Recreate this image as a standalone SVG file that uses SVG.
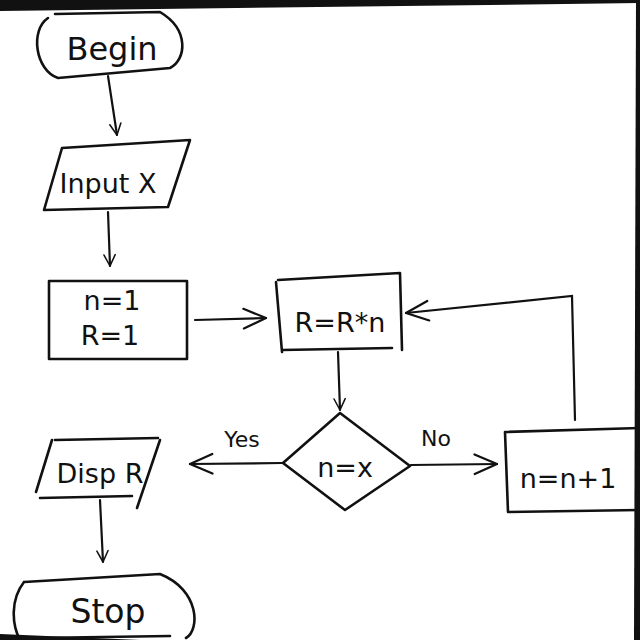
<svg xmlns="http://www.w3.org/2000/svg" width="640" height="640" viewBox="0 0 640 640">
<defs>
<marker id="v" viewBox="0 0 20 20" refX="18" refY="10" markerWidth="14" markerHeight="14" markerUnits="userSpaceOnUse" orient="auto">
<path d="M2,2 L18,10 L2,18" fill="none" stroke="#111" stroke-width="2.2" stroke-linecap="round" stroke-linejoin="round"/>
</marker>
<marker id="vb" viewBox="0 0 20 20" refX="18" refY="10" markerWidth="28" markerHeight="28" markerUnits="userSpaceOnUse" orient="auto">
<path d="M2,3 L18,10 L2,17" fill="none" stroke="#111" stroke-width="1.6" stroke-linecap="round" stroke-linejoin="round"/>
</marker>
</defs>
<style>
.s{fill:none;stroke:#111;stroke-width:2.6;stroke-linecap:round;stroke-linejoin:round}
.c{fill:none;stroke:#111;stroke-width:2.2;stroke-linecap:round}
.t{font-family:"DejaVu Sans","Liberation Sans",sans-serif;font-size:27px;fill:#111;text-anchor:middle}
.l{font-family:"DejaVu Sans","Liberation Sans",sans-serif;font-size:22px;fill:#111;text-anchor:middle}
</style>
<rect width="640" height="640" fill="#fff"/>
<polygon points="0,0 640,0 640,3 0,11" fill="#111"/>
<polygon points="636,0 640,0 640,640 634,640" fill="#111"/>
<polygon points="0,634 140,640 0,640" fill="#111"/>
<g id="begin">
<path class="s" d="M55,14 L160,12 C190,30 186,60 170,68 L58,78 C35,70 30,30 48,18"/>
<text class="t" x="112" y="60" style="font-size:32px">Begin</text>
</g>
<g id="input">
<path class="s" d="M62,148 L190,140 L168,207 L44,210 Z"/>
<text class="t" x="108" y="193">Input X</text>
</g>
<g id="init">
<rect class="s" x="49" y="281" width="138" height="78"/>
<text class="t" x="112" y="310">n=1</text>
<text class="t" x="110" y="345">R=1</text>
</g>
<g id="mult">
<path class="s" d="M278,280 L400,273 L402,350 M282,350 L392,348 M276,282 L282,352"/>
<text class="t" x="340" y="332">R=R*n</text>
</g>
<g id="decision">
<path class="s" d="M340,413 L410,466 L345,510 L283,463 Z"/>
<text class="t" x="345" y="477">n=x</text>
</g>
<g id="incr">
<path class="s" d="M505,432 L640,428 M505,432 L508,512 L640,510"/>
<text class="t" x="568" y="488">n=n+1</text>
</g>
<g id="disp">
<path class="s" d="M55,440 L158,438 M52,440 L36,492 M40,498 L132,496 M160,440 L137,508"/>
<text class="t" x="100" y="483">Disp R</text>
</g>
<g id="stop">
<path class="s" d="M24,582 L160,574 C200,590 200,630 186,638 M24,582 C10,600 12,625 20,640 M35,638 L170,636"/>
<text class="t" x="108" y="623" style="font-size:33px">Stop</text>
</g>
<g id="connectors">
<path class="c" d="M108,76 L117,135" marker-end="url(#v)"/>
<path class="c" d="M108,212 L110,266" marker-end="url(#v)"/>
<path class="c" d="M195,320 L266,318" marker-end="url(#vb)"/>
<path class="c" d="M338,352 L340,410" marker-end="url(#v)"/>
<path class="c" d="M282,463 L190,464" marker-end="url(#vb)"/>
<path class="c" d="M411,465 L497,464" marker-end="url(#vb)"/>
<path class="c" d="M575,420 L572,296 L406,313" marker-end="url(#vb)"/>
<path class="c" d="M100,500 L103,562" marker-end="url(#v)"/>
<text class="l" x="242" y="447">Yes</text>
<text class="l" x="436" y="446">No</text>
</g>
</svg>
